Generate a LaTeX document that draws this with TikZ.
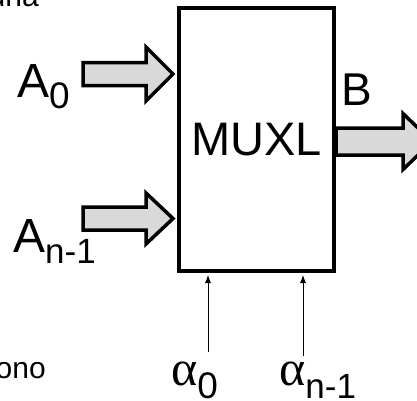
\documentclass[tikz,border=0pt]{standalone}
\usepackage{fontspec}
\setmainfont{Liberation Sans}
\newfontfamily\grk{Liberation Serif}
\usetikzlibrary{calc,arrows.meta}
\definecolor{arrowgray}{HTML}{D9D9D9}
\newcommand\fatarr[5]{%
  \draw[fat] ($(#1)+(-#2,-#4)$) -- ($(#1)+(-#3,-#4)$) -- ($(#1)+(-#3,-#5)$) -- (#1)
    -- ($(#1)+(-#3,#5)$) -- ($(#1)+(-#3,#4)$) -- ($(#1)+(-#2,#4)$) -- cycle;}
\begin{document}
\begin{tikzpicture}[x=1pt,y=-1pt,
  fat/.style={draw=black,line width=3.5pt,fill=arrowgray,line join=miter},
  ctl/.style={line width=0.8pt,-{Latex[length=8pt,width=6pt]},shorten >=2pt},
  lbl/.style={anchor=base west,inner sep=0pt},
  bigf/.style={font=\fontsize{48}{48}\selectfont},
  subf/.style={font=\fontsize{36}{36}\selectfont}]
\useasboundingbox (0,0) rectangle (417,400);
\clip (0,0) rectangle (417,400);
% partial texts at the edges
\node[anchor=base east,inner sep=0pt,font=\fontsize{30}{30}\selectfont] (top) at (39,6) {una};
\node[anchor=base east,inner sep=0pt,font=\fontsize{30}{30}\selectfont] (sono) at (46,378) {sono};
% block
\node[draw,line width=4pt,minimum width=155pt,minimum height=263pt,inner sep=0pt,
      font=\fontsize{47}{47}\selectfont] (mux) at (256.5,139.5) {MUXL};
% fat arrows
\coordinate (t0) at ($(mux.west |- 0,74)+(-4,0)$);
\coordinate (t1) at ($(mux.west |- 0,218.5)+(-4,0)$);
\coordinate (tb) at ($(mux.east |- 0,141.5)+(96,0)$);
\fatarr{t0}{90}{27}{11.5}{27}
\fatarr{t1}{90}{27}{11.5}{25.5}
\fatarr{tb}{96}{29}{13.5}{28}
% labels
\node[lbl,bigf] (a0) at (17,97) {A\raisebox{-11pt}{\fontsize{37}{37}\selectfont 0}};
\node[lbl,bigf] (an) at (13,252) {A\raisebox{-11pt}{\fontsize{35}{35}\selectfont n-1}};
\node[lbl,font=\fontsize{46}{46}\selectfont] (b) at (341,105) {B};
\node[lbl] (al0) at (171,385) {{\grk\fontsize{50}{50}\selectfont α}\raisebox{-13pt}{\fontsize{37}{37}\selectfont 0}};
\node[lbl] (aln) at (279,385) {{\grk\fontsize{50}{50}\selectfont α}\raisebox{-13pt}{\fontsize{35}{35}\selectfont n-1}};
% control inputs
\coordinate (c0) at (208,352);
\coordinate (c1) at (303,356);
\draw[ctl] (c0) -- (c0 |- mux.south);
\draw[ctl] (c1) -- (c1 |- mux.south);
\end{tikzpicture}
\end{document}
